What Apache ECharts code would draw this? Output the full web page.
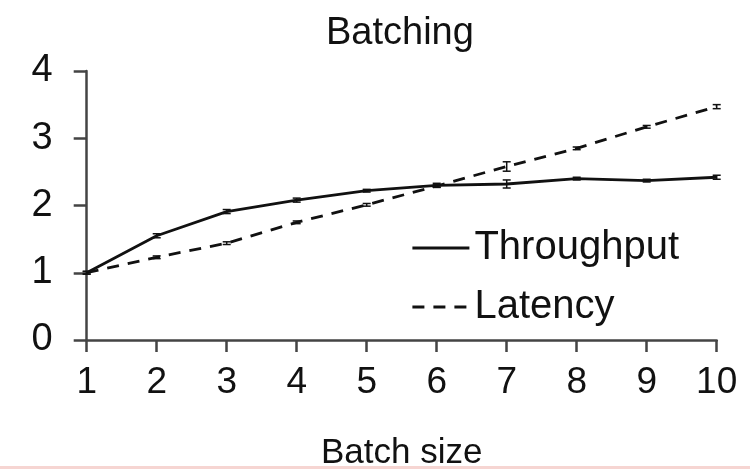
<!DOCTYPE html>
<html>
<head>
<meta charset="utf-8">
<script src="https://cdn.jsdelivr.net/npm/echarts@6/dist/echarts.min.js"></script>
<style>
  html, body { margin: 0; padding: 0; background: #fff; }
  #chart { width: 750px; height: 469px; }
</style>
</head>
<body>
<div id="chart"></div>
<script>
// ======================
// DATA
// ======================

const batchSizes = [1, 2, 3, 4, 5, 6, 7, 8, 9, 10];
const throughput = [1.00, 1.55, 1.91, 2.08, 2.22, 2.30, 2.32, 2.40, 2.37, 2.42];
const throughputErr = [0.02, 0.03, 0.03, 0.03, 0.02, 0.03, 0.06, 0.02, 0.02, 0.03];
const latency = [1.00, 1.23, 1.44, 1.75, 2.01, 2.29, 2.58, 2.85, 3.17, 3.47];
const latencyErr = [0.02, 0.02, 0.02, 0.02, 0.02, 0.02, 0.07, 0.02, 0.02, 0.03];
const seriesNames = ['Throughput', 'Latency'];

const FONT = '"Liberation Sans", Arial, sans-serif';
const INK = '#111';

// ======================
// HELPERS
// ======================

function pairs(values) {
    return batchSizes.map((x, i) => [x, values[i]]);
}

function errorRows(values, errs) {
    return batchSizes.map((x, i) => [x, values[i] - errs[i], values[i] + errs[i]]);
}

function renderErrorBar(params, api) {
    const lo = api.coord([api.value(0), api.value(1)]);
    const hi = api.coord([api.value(0), api.value(2)]);
    const half = 4;
    const style = { stroke: INK, lineWidth: 1.5 };
    return {
        type: 'group',
        children: [
            { type: 'line', shape: { x1: lo[0], y1: lo[1], x2: hi[0], y2: hi[1] }, style },
            { type: 'line', shape: { x1: lo[0] - half, y1: lo[1], x2: lo[0] + half, y2: lo[1] }, style },
            { type: 'line', shape: { x1: hi[0] - half, y1: hi[1], x2: hi[0] + half, y2: hi[1] }, style }
        ]
    };
}

// ======================
// OPTION
// ======================

const chart = echarts.init(document.getElementById('chart'), null, { renderer: 'canvas' });

const option = {
    backgroundColor: '#fff',
    animation: false,
    textStyle: { fontFamily: FONT, color: INK },
    title: {
        text: 'Batching',
        left: 321,
        top: 10,
        textStyle: { fontFamily: FONT, fontSize: 38, fontWeight: 'normal', color: INK }
    },
    legend: {
        orient: 'vertical',
        left: 406,
        top: 223,
        itemWidth: 57,
        itemHeight: 38,
        itemGap: 19,
        data: seriesNames,
        itemStyle: { opacity: 0, borderWidth: 0 },
        lineStyle: { width: 2.8 },
        textStyle: { fontFamily: FONT, fontSize: 40, color: INK }
    },
    grid: {
        left: 86.7,
        right: 33.3,
        top: 71,
        bottom: 129,
        containLabel: false,
        outerBoundsMode: 'none'
    },
    xAxis: {
        type: 'value',
        min: 1,
        max: 10,
        interval: 1,
        name: 'Batch size',
        nameLocation: 'middle',
        nameGap: 96,
        nameTextStyle: { fontFamily: FONT, fontSize: 35, color: INK },
        axisLine: { show: true, lineStyle: { color: '#444', width: 2.5 } },
        axisTick: { show: true, length: 12, lineStyle: { color: '#444', width: 2.5 } },
        axisLabel: { margin: 24, fontFamily: FONT, fontSize: 37, color: INK },
        splitLine: { show: false }
    },
    yAxis: {
        type: 'value',
        min: 0,
        max: 4,
        interval: 1,
        axisLine: { show: true, lineStyle: { color: '#444', width: 2.5 } },
        axisTick: { show: true, length: 13, lineStyle: { color: '#444', width: 2.5 } },
        axisLabel: { margin: 34, fontFamily: FONT, fontSize: 38, color: INK },
        splitLine: { show: false }
    },
    series: [
        {
            name: 'Throughput',
            type: 'line',
            data: pairs(throughput),
            symbol: 'none',
            color: INK,
            lineStyle: { color: INK, width: 2.8, type: 'solid' },
            z: 3
        },
        {
            name: 'Latency',
            type: 'line',
            data: pairs(latency),
            symbol: 'none',
            color: INK,
            lineStyle: { color: INK, width: 2.8, type: [12, 9] },
            z: 3
        },
        {
            name: 'Throughput error',
            type: 'custom',
            data: errorRows(throughput, throughputErr),
            renderItem: renderErrorBar,
            encode: { x: 0, y: [1, 2] },
            z: 4
        },
        {
            name: 'Latency error',
            type: 'custom',
            data: errorRows(latency, latencyErr),
            renderItem: renderErrorBar,
            encode: { x: 0, y: [1, 2] },
            z: 4
        }
    ],
    graphic: [
        {
            type: 'rect',
            left: 0,
            top: 466,
            shape: { width: 750, height: 3 },
            style: { fill: '#f6d5d2' },
            silent: true
        }
    ]
};

chart.setOption(option);
</script>
</body>
</html>
